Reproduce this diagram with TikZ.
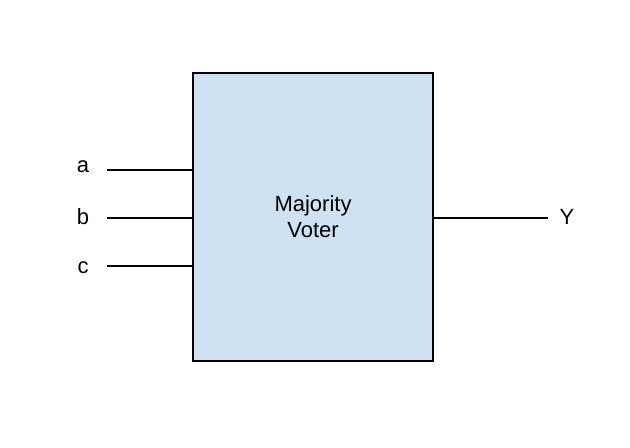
\documentclass[tikz,border=0pt]{standalone}
\usepackage{fontspec}
\setmainfont{Liberation Sans}
\usetikzlibrary{positioning}
\definecolor{voterblue}{HTML}{CFE2F3}

\begin{document}
\begin{tikzpicture}[x=0.75pt, y=-0.75pt, line width=1.5pt, every node/.style={font=\fontsize{16.5}{19.5}\selectfont, inner sep=0pt}]
        \useasboundingbox (0,0) rectangle (630,447);
        \node (voter) [draw, fill=voterblue, minimum width=180pt, minimum height=216pt, align=center] at (313,217) {Majority\\Voter};

        % inputs
        \node (a) at (83,167) {a};
        \node (b) at (83,217) {b};
        \node (c) at (83,268) {c};
        \coordinate (ina) at (107,170);
        \coordinate (inb) at (107,218);
        \coordinate (inc) at (107,266);
        \draw (ina) -- (ina -| voter.west);
        \draw (inb) -- (inb -| voter.west);
        \draw (inc) -- (inc -| voter.west);

        % output
        \node (y) at (567,217) {Y};
        \coordinate (outy) at (548,218);
        \draw (outy -| voter.east) -- (outy);
    \end{tikzpicture}
\end{document}
